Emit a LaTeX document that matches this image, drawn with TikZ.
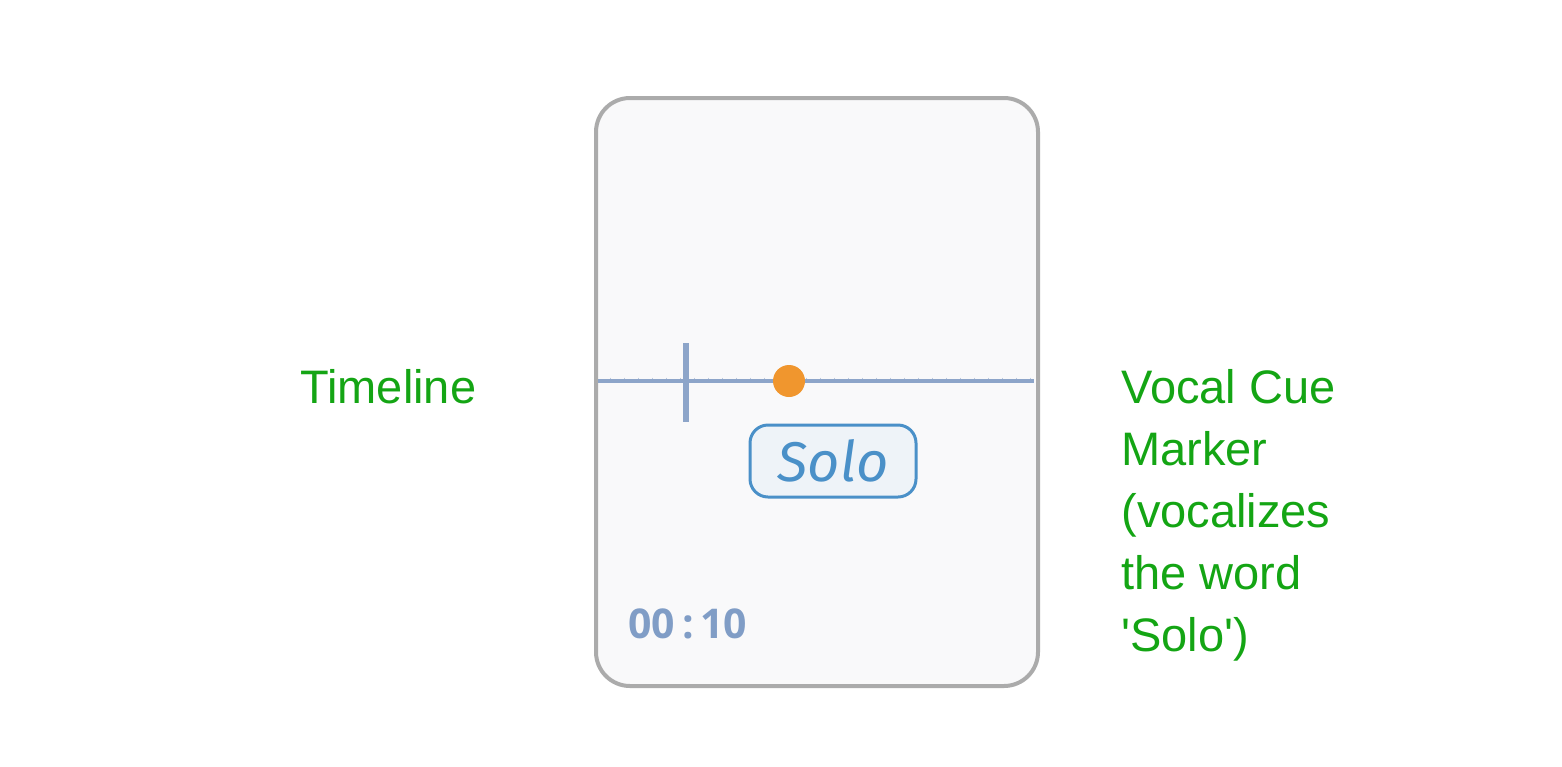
\documentclass[tikz,border=0pt]{standalone}
\usepackage{fontspec}
\setmainfont{Liberation Sans}[Ligatures=TeXOff]
\newfontfamily\solofont{Fira Sans}
\newfontfamily\timefont{Open Sans}
\definecolor{lblgreen}{HTML}{14A514}
\definecolor{cardborder}{HTML}{ABABAB}
\definecolor{cardfill}{HTML}{F9F9FA}
\definecolor{tlblue}{HTML}{8DA5C9}
\definecolor{dotorange}{HTML}{F0962E}
\definecolor{soloblue}{HTML}{4A90C8}
\definecolor{solofill}{HTML}{EEF3F8}
\definecolor{timeblue}{HTML}{809DC6}
\tikzset{
  lbl/.style={text=lblgreen, font=\fontsize{23.5}{31}\selectfont, inner sep=0pt},
}
\begin{document}
\begin{tikzpicture}[x=0.5pt,y=-0.5pt]
\useasboundingbox (0,0) rectangle (1562,766);
% card
\draw[cardborder, line width=2pt, fill=cardfill, rounded corners=17pt] (596,98) rectangle (1038,686);
% timeline
\coordinate (tlL) at (598,381);
\coordinate (tlR) at (1034,381);
\draw[tlblue, line width=2.2pt] (tlL) -- (tlR);
\foreach \x in {610,624,...,1030} \draw[tlblue!60, line width=0.5pt] (\x,377.5) -- (\x,379);
\coordinate (vt1) at (686,343);
\coordinate (vt2) at (686,422);
\draw[tlblue, line width=2.6pt] (vt1) -- (vt2);
\node[circle, fill=dotorange, minimum size=16pt, inner sep=0pt] (dot) at (789,381) {};
% Solo box
\node[draw=soloblue, line width=1.5pt, fill=solofill, rounded corners=9pt, minimum width=83pt, minimum height=36pt, inner sep=0pt, text=soloblue, font=\solofont\itshape\fontsize{28}{30}\selectfont] (solo) at (833,461) {Solo};
% time
\node[anchor=base west, inner sep=0pt, text=timeblue, font=\timefont\bfseries\fontsize{20.5}{22}\selectfont] (time) at (628,638) {00\,:\,10};
% labels
\node[lbl, anchor=base west] (timeline) at (300,403) {Timeline};
\node[lbl, anchor=north west, align=left, text depth=0pt] (vcm) at (1121,369) {Vocal Cue\\Marker\\(vocalizes\\the word\\'Solo')};
\end{tikzpicture}
\end{document}
